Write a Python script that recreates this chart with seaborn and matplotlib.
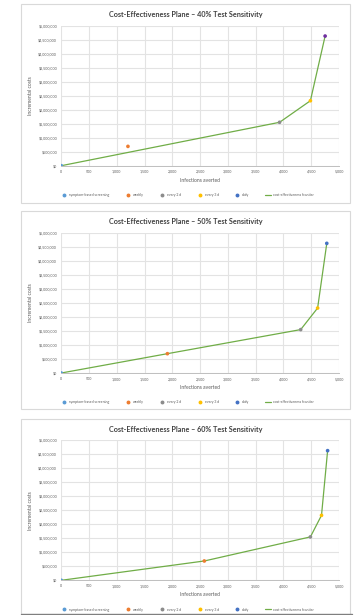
import matplotlib
matplotlib.use("Agg")
import matplotlib.pyplot as plt
from matplotlib.lines import Line2D
from matplotlib.patches import Rectangle
from matplotlib.ticker import FuncFormatter
import seaborn as sns
import pandas as pd

# ---------------- data ----------------
sensitivities = ["40%", "50%", "60%"]
strategies = ["symptom-based screening", "weekly", "every 2 d", "every 3 d", "daily"]
incremental_costs = [0, 690000, 1550000, 2320000, 4630000]
infections_averted_40 = [0, 1200, 3930, 4485, 4750]
infections_averted_50 = [0, 1910, 4310, 4615, 4780]
infections_averted_60 = [0, 2575, 4485, 4685, 4795]
frontier_40 = ["symptom-based screening", "every 2 d", "every 3 d", "daily"]
frontier_50 = ["symptom-based screening", "weekly", "every 2 d", "every 3 d", "daily"]
frontier_60 = ["symptom-based screening", "weekly", "every 2 d", "every 3 d", "daily"]
strategy_colors = ["#5B9BD5", "#ED7D31", "#8C8C8C", "#FFC000", "#4472C4"]
daily_marker_colors = ["#7030A0", "#4472C4", "#4472C4"]
frontier_color = "#70AD47"
x_ticks = list(range(0, 5001, 500))
y_ticks = list(range(0, 5000001, 500000))

averted = [infections_averted_40, infections_averted_50, infections_averted_60]
frontiers = [frontier_40, frontier_50, frontier_60]

sns.set_theme(style="white")
plt.rcParams["font.family"] = ["Lato", "DejaVu Sans"]

W, H = 360, 615
fig = plt.figure(figsize=(W / 100, H / 100), dpi=100)

plot_left, plot_right = 61.3, 339.0
panels = [
    dict(top=25.7, bottom=165.7, box_top=4.3, box_bot=202.7, title=14.7, xlab=180.3, leg=195.3),
    dict(top=233.0, bottom=373.0, box_top=211.0, box_bot=409.0, title=221.7, xlab=387.7, leg=402.3),
    dict(top=440.3, bottom=580.3, box_top=419.3, box_bot=640.0, title=429.3, xlab=595.0, leg=609.7),
]

grid_c = "#E3E3E3"
text_c = "#595959"

legend_handles = [
    Line2D([], [], marker="o", linestyle="none", markersize=1.8,
           markerfacecolor=c, markeredgecolor=c)
    for c in strategy_colors
] + [Line2D([], [], color=frontier_color, lw=0.9)]
legend_labels = strategies + ["cost-effectiveness frontier"]

for i, p in enumerate(panels):
    fig.patches.append(Rectangle((20.7 / W, 1 - p["box_bot"] / H),
                                 (350.0 - 20.7) / W, (p["box_bot"] - p["box_top"]) / H,
                                 transform=fig.transFigure, fill=False,
                                 edgecolor="#D9D9D9", lw=0.8, zorder=0))
    ax = fig.add_axes([plot_left / W, 1 - p["bottom"] / H,
                       (plot_right - plot_left) / W, (p["bottom"] - p["top"]) / H])

    df = pd.DataFrame({"strategy": strategies,
                       "averted": averted[i],
                       "cost": incremental_costs})
    fr = df.set_index("strategy").loc[frontiers[i]].reset_index()
    sns.lineplot(data=fr, x="averted", y="cost", sort=False, color=frontier_color,
                 lw=0.9, ax=ax, zorder=3)
    pal = dict(zip(strategies, strategy_colors))
    pal["daily"] = daily_marker_colors[i]
    sns.scatterplot(data=df, x="averted", y="cost", hue="strategy", palette=pal,
                    s=7, linewidth=0, ax=ax, legend=False, zorder=4)

    ax.set_xlim(0, 5000)
    ax.set_ylim(0, 5000000)
    ax.set_xticks(x_ticks)
    ax.set_yticks(y_ticks)
    ax.xaxis.set_major_formatter(FuncFormatter(lambda v, _: f"{int(v):,}"))
    ax.yaxis.set_major_formatter(FuncFormatter(lambda v, _: f"${int(v):,}"))
    ax.grid(True, color=grid_c, lw=0.8)
    ax.set_axisbelow(True)
    for s in ["top", "right", "left"]:
        ax.spines[s].set_visible(False)
    ax.spines["bottom"].set_color("#BFBFBF")
    ax.spines["bottom"].set_linewidth(0.7)
    ax.tick_params(axis="both", length=0, labelsize=2.6, labelcolor=text_c, pad=3)
    ax.set_xlabel("")
    ax.set_ylabel("Incremental costs", fontsize=3.6, color=text_c, labelpad=4)

    fig.text((20.7 + 350) / 2 / W, 1 - p["title"] / H,
             f"Cost-Effectiveness Plane \u2013 {sensitivities[i]} Test Sensitivity",
             ha="center", va="center", fontsize=5.2, fontweight="bold", color="#404040")
    fig.text((plot_left + plot_right) / 2 / W, 1 - p["xlab"] / H, "Infections averted",
             ha="center", va="center", fontsize=3.6, color=text_c)
    fig.legend(legend_handles, legend_labels, loc="center",
               bbox_to_anchor=(187.5 / W, 1 - p["leg"] / H), ncol=6, frameon=False,
               fontsize=2.5, labelcolor=text_c, handlelength=1.6, handletextpad=0.6,
               columnspacing=4.5, borderaxespad=0, borderpad=0)

fig.add_artist(Line2D([20.7 / W, 352 / W], [1 - 613.5 / H, 1 - 613.5 / H],
                      transform=fig.transFigure, color="#7F7F7F", lw=1.0))

fig.savefig("out.png", dpi=100, facecolor="white")
